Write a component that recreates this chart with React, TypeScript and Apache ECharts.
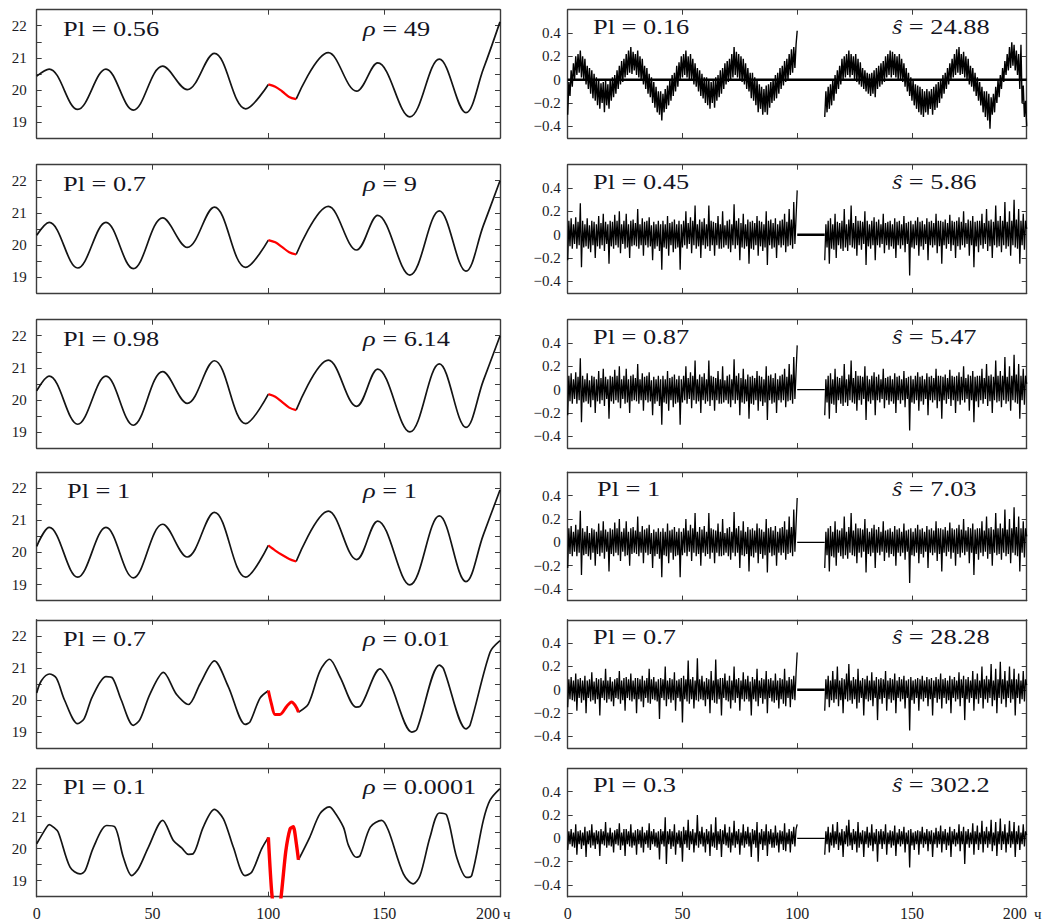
import React, { useEffect, useRef } from "react";
import * as echarts from "echarts";

const FONT = "Liberation Serif, Times New Roman, serif";

// ---------- annotation values ----------
const plLeft = ["0.56", "0.7", "0.98", "1", "0.7", "0.1"];
const rhoValues = ["49", "9", "6.14", "1", "0.01", "0.0001"];
const plRight = ["0.16", "0.45", "0.87", "1", "0.7", "0.3"];
const sHatValues = ["24.88", "5.86", "5.47", "7.03", "28.28", "302.2"];

// ---------- axis ticks ----------
const xTickValues = [50, 100, 150];
const xLabelValues = [0, 50, 100, 150, 200];
const leftYTicks = [19, 19.5, 20, 20.5, 21, 21.5, 22];
const leftYLabels = [19, 20, 21, 22];
const rightYTicks = [-0.4, -0.2, 0, 0.2, 0.4];
const xRange = [0, 200];
const leftYRange = [18.5, 22.5];
const rightYRange = [-0.5, 0.6];

// ---------- left column: fitted curves (rows 1-4 share knot positions) ----------
const xSmoothPre = [0, 5.4, 17.7, 29.9, 41.7, 54.4, 65, 76.7, 90.2, 100];
const xSmoothGap = [100, 103, 106, 109, 112];
const xSmoothPost = [112, 125.9, 138.1, 147.2, 161.1, 173.8, 185.3, 192.8, 200];

const fit1Pre = [20.43, 20.65, 19.39, 20.65, 19.37, 20.74, 20.01, 21.14, 19.41, 20.17];
const fit1Gap = [20.17, 20.1, 19.95, 19.78, 19.71];
const fit1Post = [19.71, 21.16, 19.96, 20.84, 19.16, 20.96, 19.29, 20.65, 22.12];

const fit2Pre = [20.3, 20.7, 19.28, 20.7, 19.26, 20.84, 19.92, 21.18, 19.3, 20.15];
const fit2Gap = [20.15, 20.08, 19.93, 19.77, 19.7];
const fit2Post = [19.7, 21.2, 19.84, 20.92, 19.06, 21.06, 19.18, 20.6, 22.0];

const fit3Pre = [20.28, 20.74, 19.24, 20.74, 19.21, 20.88, 19.89, 21.22, 19.26, 20.18];
const fit3Gap = [20.18, 20.1, 19.93, 19.76, 19.68];
const fit3Post = [19.68, 21.24, 19.8, 20.96, 19.0, 21.12, 19.14, 20.6, 21.99];

const fit4Pre = [20.19, 20.78, 19.23, 20.78, 19.21, 20.88, 19.86, 21.25, 19.23, 20.22];
const fit4Gap = [20.22, 20.06, 19.92, 19.8, 19.72];
const fit4Post = [19.72, 21.29, 19.78, 20.98, 18.99, 21.14, 19.09, 20.55, 21.95];

const x5Pre = [0, 2, 5.5, 8.5, 12, 17.7, 20.5, 24, 29.9, 32.8, 36.5, 41.7, 44.5, 49, 54.7, 60.4, 65.5, 70.5, 76.7, 82.7, 90, 92.1, 96.4, 100];
const fit5Pre = [20.22, 20.6, 20.81, 20.68, 20.0, 19.26, 19.42, 20.1, 20.73, 20.68, 20.0, 19.21, 19.38, 20.2, 20.86, 20.17, 19.86, 20.5, 21.22, 20.42, 19.24, 19.32, 20.06, 20.29];
const x5Gap = [100, 101.4, 102.9, 105, 107.9, 110, 111.5, 113];
const fit5Gap = [20.29, 19.86, 19.55, 19.55, 19.8, 19.94, 19.84, 19.62];
const x5Post = [113, 117.3, 122.3, 126.4, 131, 137.8, 139.6, 148.2, 152.5, 161.9, 164.1, 173.8, 175.6, 185.3, 187.1, 195.7, 200];
const fit5Post = [19.62, 19.88, 20.91, 21.27, 20.71, 19.78, 19.8, 20.97, 20.53, 19.0, 19.08, 21.09, 20.98, 19.1, 19.22, 21.49, 21.85];

const x6Pre = [0, 4.3, 5.4, 7.2, 9.3, 14.4, 18.7, 20.9, 24.5, 30.2, 33.8, 37.4, 41, 43.9, 48.2, 54.4, 59, 62.6, 65.5, 67.6, 71.9, 76.7, 80.6, 84.9, 89.9, 92.8, 97.1, 100];
const fit6Pre = [20.15, 20.67, 20.75, 20.67, 20.51, 19.42, 19.21, 19.31, 20.04, 20.72, 20.67, 19.73, 19.16, 19.37, 20.04, 20.88, 20.25, 20.02, 19.82, 19.84, 20.67, 21.22, 20.93, 20.04, 19.16, 19.26, 19.99, 20.35];
const x6Gap = [100, 101.5, 103.5, 105.5, 107.5, 109.4, 110.8, 112, 113];
const fit6Gap = [20.35, 18.6, 17.6, 18.5, 19.9, 20.62, 20.68, 20.2, 19.65];
const x6Post = [113, 117.9, 122.3, 126.3, 128.1, 132.4, 134.6, 137.9, 139.6, 144, 148.9, 151.8, 158.3, 162.6, 165.5, 169.8, 173.8, 177, 181.3, 185.6, 187.8, 192.8, 195.7, 200];
const fit6Post = [19.65, 20.36, 21.09, 21.3, 21.19, 20.67, 20.1, 19.73, 19.78, 20.67, 20.88, 20.57, 19.21, 18.9, 19.16, 20.36, 21.11, 21.04, 19.73, 19.1, 19.16, 20.88, 21.51, 21.87];

// ---------- right column: residuals (hundredths), one sample every 0.5 s ----------
const RESID_STEP = 0.5;
const residPreStart = 0;
const residPostStart = 112;
const zeroSpanFull = [0, 200];
const zeroSpanGap = [100, 112];

const res1Pre = [
  -30,-2,-14,8,-6,14,0,20,4,22,6,25,2,20,0,18,-4,12,-8,10,
  -12,8,-16,5,-18,2,-22,0,-25,-3,-20,-2,-28,0,-22,-4,-25,0,-18,2,
  -15,4,-12,8,-8,12,-4,16,-2,18,2,22,4,25,6,28,5,24,8,22,
  4,25,2,20,0,18,-4,12,-8,10,-12,5,-15,2,-20,-2,-24,-6,-28,-10,
  -30,-10,-35,-12,-28,-8,-25,-5,-22,0,-18,4,-14,6,-10,12,-6,15,0,20,
  2,22,4,25,2,20,0,22,0,18,-4,14,-6,10,-10,8,-14,5,-16,2,
  -20,2,-22,0,-25,-2,-20,0,-24,2,-18,4,-15,8,-12,10,-8,14,-4,16,
  -2,18,0,22,2,28,4,24,2,22,0,20,-2,18,-4,14,-8,10,-10,6,
  -16,6,-18,2,-22,0,-28,-4,-25,-6,-30,-8,-28,-5,-30,-4,-24,-2,-20,0,
  -18,4,-16,6,-12,10,-8,12,-5,16,-2,18,0,22,4,26,6,28,10,30,
  42];
const res1Post = [
  -32,-10,-28,-6,-25,-4,-22,0,-18,4,-12,8,-8,12,-4,18,0,20,2,22,
  4,25,2,22,4,20,0,22,-2,18,-4,15,-6,10,-8,8,-10,6,-12,5,
  -14,6,-12,8,-15,10,-8,12,-6,14,-4,16,-2,20,2,22,4,25,2,24,
  4,22,2,20,0,22,0,18,-2,14,-6,10,-10,6,-14,2,-18,0,-22,-4,
  -25,-5,-28,-6,-30,-8,-32,-10,-28,-8,-30,-10,-25,-8,-30,-6,-26,-4,-24,-2,
  -20,0,-16,4,-12,6,-8,10,-4,14,0,18,2,22,4,26,6,28,4,22,
  5,24,2,20,0,18,-4,12,-6,10,-10,6,-14,2,-18,-2,-22,-6,-28,-10,
  -32,-10,-35,-12,-42,-15,-30,-12,-28,-6,-20,0,-15,4,-8,10,-2,16,4,22,
  8,28,10,32,12,30,8,25,4,22,-8,30,-20,-5,-32,-18,
  -40];

const resAPre = [
  -22,12,-10,14,-12,9,-8,15,-12,11,-9,27,-28,12,-11,9,-10,14,-12,8,
  -15,12,-9,11,-20,9,-10,16,-12,10,-9,18,-14,11,-8,9,-25,12,-10,11,
  -12,17,-9,12,-11,20,-16,9,-8,12,-12,18,-11,9,-20,12,-10,13,-9,10,
  -10,22,-12,9,-9,14,-18,11,-9,12,-11,15,-10,8,-22,11,-12,9,-10,12,
  -14,9,-30,12,-11,9,-12,16,-18,10,-9,11,-15,13,-12,9,-11,12,-30,9,
  -11,12,-9,20,-12,10,-8,15,-16,12,-9,25,-12,9,-10,13,-20,11,-9,14,
  -12,9,-10,25,-14,12,-9,11,-18,10,-9,16,-12,9,-12,20,-11,8,-9,12,
  -12,13,-15,9,-9,26,-12,12,-9,14,-22,10,-11,18,-12,9,-10,13,-25,11,
  -12,12,-13,10,-9,16,-18,12,-10,11,-14,9,-11,20,-26,12,-9,13,-12,10,
  -11,14,-20,9,-9,12,-11,13,-9,18,-15,11,-10,22,-9,13,-12,28,-8,15,
  38];
const resAPost = [
  -22,9,-11,12,-25,14,-12,9,-13,18,-20,11,-9,10,-12,12,-14,22,-11,9,
  -14,13,-9,25,-11,10,-12,16,-18,12,-9,12,-13,11,-8,20,-26,12,-10,9,
  -12,12,-9,15,-22,11,-9,13,-11,9,-8,18,-16,10,-9,11,-13,12,-10,9,
  -12,14,-20,11,-9,12,-12,9,-9,16,-15,10,-8,11,-35,12,-11,9,-12,12,
  -9,15,-18,11,-10,12,-13,9,-8,14,-22,11,-9,12,-11,10,-9,18,-16,12,
  -10,12,-25,11,-9,13,-12,10,-8,17,-14,12,-9,11,-20,12,-10,15,-13,11,
  -9,20,-11,10,-8,13,-18,12,-9,16,-28,11,-10,12,-15,12,-9,18,-12,10,
  -8,22,-14,12,-10,13,-20,11,-9,25,-11,12,-10,16,-15,12,-9,28,-12,11,
  -10,20,-18,12,-9,30,-11,13,-12,22,-25,12,-9,18,-13,12,
  5];

const resBPre = [
  -15,9,-8,11,-9,8,-10,14,-18,9,-7,10,-11,8,-9,12,-20,8,-7,9,
  -10,15,-9,7,-12,10,-8,9,-22,10,-7,8,-9,18,-11,8,-8,11,-10,7,
  -14,9,-7,10,-8,16,-12,8,-9,10,-18,11,-7,9,-9,14,-10,8,-8,10,
  -20,10,-8,9,-10,12,-15,8,-7,10,-11,18,-12,9,-8,11,-9,7,-10,9,
  -25,10,-7,9,-9,20,-14,8,-8,10,-11,9,-9,15,-18,8,-7,9,-10,10,
  -28,12,-8,9,-10,25,-12,9,-8,11,-16,8,-9,27,-10,9,-8,12,-9,7,
  -14,10,-8,9,-20,16,-9,8,-11,26,-12,9,-8,10,-22,10,-7,14,-9,8,
  -10,12,-16,8,-9,20,-11,9,-7,10,-18,8,-8,15,-10,9,-8,12,-10,7,
  -22,11,-8,9,-10,18,-14,8,-7,10,-12,9,-8,16,-20,9,-7,10,-10,8,
  -11,14,-9,8,-16,10,-8,9,-12,18,-14,8,-7,11,-15,9,-8,12,-9,14,
  32];
const resBPost = [
  -18,9,-8,12,-15,8,-9,16,-11,9,-8,20,-14,8,-9,10,-20,9,-8,14,
  -10,22,-9,8,-12,11,-8,9,-16,18,-11,8,-7,10,-22,9,-8,12,-10,8,
  -9,15,-14,8,-7,11,-26,9,-8,10,-12,9,-7,16,-18,8,-8,10,-11,9,
  -9,14,-20,8,-7,11,-10,9,-8,12,-16,8,-7,9,-35,11,-9,8,-12,9,
  -7,10,-18,9,-8,12,-10,8,-7,11,-14,9,-8,10,-22,8,-7,11,-11,9,
  -8,14,-16,9,-7,10,-12,8,-9,12,-20,9,-7,11,-10,8,-8,15,-14,9,
  -7,12,-26,9,-8,11,-11,8,-7,16,-18,9,-8,14,-12,8,-7,20,-16,9,
  -8,12,-11,9,-7,22,-14,8,-9,18,-20,9,-7,24,-12,9,-8,16,-15,8,
  -7,20,-11,9,-8,18,-22,9,-7,14,-12,8,-8,16,-10,9,
  4];

const resCPre = [
  -10,6,-5,8,-7,5,-8,12,-14,6,-5,7,-9,5,-6,10,-16,6,-5,7,
  -8,12,-6,5,-9,7,-5,6,-15,8,-5,6,-6,14,-8,5,-6,9,-7,5,
  -12,7,-5,8,-6,13,-10,5,-6,8,-15,8,-5,6,-7,12,-8,5,-6,7,
  -14,8,-5,7,-8,10,-12,5,-5,7,-8,13,-10,6,-5,8,-7,5,-8,6,
  -18,8,-5,6,-7,18,-22,6,-5,8,-9,6,-7,12,-14,5,-5,7,-8,6,
  -20,10,-5,7,-8,16,-10,6,-5,8,-12,5,-6,20,-8,6,-5,10,-7,5,
  -12,8,-5,6,-15,12,-7,5,-8,18,-10,6,-5,8,-16,7,-5,12,-6,5,
  -8,10,-12,5,-6,15,-8,6,-5,8,-14,5,-6,12,-8,6,-5,10,-7,5,
  -16,8,-5,7,-8,14,-20,5,-5,8,-10,6,-6,12,-15,6,-5,8,-8,5,
  -8,11,-6,5,-12,7,-5,6,-10,13,-11,5,-5,8,-12,6,-5,10,-7,8,
  12];
const resCPost = [
  -14,6,-5,10,-12,5,-6,12,-8,6,-5,14,-10,5,-6,8,-16,6,-5,11,
  -7,16,-6,5,-10,8,-5,6,-12,14,-8,5,-5,7,-16,6,-5,10,-8,5,
  -6,12,-11,5,-5,8,-20,6,-5,8,-9,6,-5,12,-14,5,-5,7,-8,6,
  -6,11,-15,5,-5,8,-7,6,-5,10,-12,5,-5,7,-25,8,-6,5,-10,6,
  -5,7,-14,6,-5,10,-8,5,-5,8,-11,6,-5,7,-16,5,-5,9,-8,6,
  -5,11,-12,6,-5,8,-10,5,-6,10,-16,6,-5,8,-7,5,-5,12,-11,6,
  -5,10,-22,6,-5,8,-8,5,-5,13,-14,6,-5,11,-10,5,-5,15,-12,6,
  -5,10,-8,6,-5,16,-11,5,-6,14,-15,6,-5,17,-10,6,-5,12,-12,5,
  -5,15,-8,6,-5,14,-16,6,-5,11,-10,5,-5,12,-7,6,
  3];

// ---------- layout ----------
const rowTops = [9.7, 164.7, 319.7, 472.3, 619.8, 768.4];
const ROW_H = 128.3;
const LEFT_COL = { left: 36.7, width: 463.3 };
const RIGHT_COL = { left: 567.7, width: 459 };
const AXIS_COLOR = "#3c3c3c";
const LABEL_COLOR = "#1b1b24";

const zip = (xs: number[], ys: number[]) => xs.map((x, i) => [x, ys[i]]);
const residData = (vals: number[], start: number) => vals.map((v, i) => [start + i * RESID_STEP, v / 100]);

const leftPanels = [
  { pre: zip(xSmoothPre, fit1Pre), gap: zip(xSmoothGap, fit1Gap), post: zip(xSmoothPost, fit1Post), smooth: 0.37, redW: 2.2, redSmooth: 0.3 },
  { pre: zip(xSmoothPre, fit2Pre), gap: zip(xSmoothGap, fit2Gap), post: zip(xSmoothPost, fit2Post), smooth: 0.37, redW: 2.2, redSmooth: 0.3 },
  { pre: zip(xSmoothPre, fit3Pre), gap: zip(xSmoothGap, fit3Gap), post: zip(xSmoothPost, fit3Post), smooth: 0.37, redW: 2.2, redSmooth: 0.3 },
  { pre: zip(xSmoothPre, fit4Pre), gap: zip(xSmoothGap, fit4Gap), post: zip(xSmoothPost, fit4Post), smooth: 0.37, redW: 2.2, redSmooth: 0.3 },
  { pre: zip(x5Pre, fit5Pre), gap: zip(x5Gap, fit5Gap), post: zip(x5Post, fit5Post), smooth: 0.3, redW: 3, redSmooth: 0.3 },
  { pre: zip(x6Pre, fit6Pre), gap: zip(x6Gap, fit6Gap), post: zip(x6Post, fit6Post), smooth: 0.3, redW: 3.4, redSmooth: 0.2 },
];

const rightPanels = [
  { pre: residData(res1Pre, residPreStart), post: residData(res1Post, residPostStart), zero: zeroSpanFull, zeroW: 2.6, w: 1.4 },
  { pre: residData(resAPre, residPreStart), post: residData(resAPost, residPostStart), zero: zeroSpanGap, zeroW: 2.4, w: 1.3 },
  { pre: residData(resAPre, residPreStart), post: residData(resAPost, residPostStart), zero: zeroSpanGap, zeroW: 1.2, w: 1.3 },
  { pre: residData(resAPre, residPreStart), post: residData(resAPost, residPostStart), zero: zeroSpanGap, zeroW: 1.2, w: 1.3 },
  { pre: residData(resBPre, residPreStart), post: residData(resBPost, residPostStart), zero: zeroSpanGap, zeroW: 2.4, w: 1.3 },
  { pre: residData(resCPre, residPreStart), post: residData(resCPost, residPostStart), zero: zeroSpanGap, zeroW: 1.3, w: 1.3 },
];

function axisLineCfg() {
  return { show: true, onZero: false, lineStyle: { color: AXIS_COLOR, width: 1.4 } };
}
function tickCfg(values: number[]) {
  return { show: true, inside: true, length: 5, customValues: values, lineStyle: { color: AXIS_COLOR, width: 1 } };
}
const fmtNum = (v: number) => (v < 0 ? "\u2212" + String(Math.abs(v)) : String(v));

function buildOption() {
  const grid: any[] = [];
  const xAxis: any[] = [];
  const yAxis: any[] = [];
  const series: any[] = [];
  const graphic: any[] = [];

  for (let row = 0; row < 6; row++) {
    for (let col = 0; col < 2; col++) {
      const k = row * 2 + col;
      const c = col === 0 ? LEFT_COL : RIGHT_COL;
      grid.push({ left: c.left, top: rowTops[row], width: c.width, height: ROW_H, containLabel: false });
      const isBottom = row === 5;
      xAxis.push({
        type: "value", gridIndex: k, min: xRange[0], max: xRange[1], position: "bottom",
        axisLine: axisLineCfg(), axisTick: tickCfg(xTickValues), splitLine: { show: false },
        axisLabel: {
          show: isBottom, customValues: xLabelValues, fontFamily: FONT, fontSize: 16,
          color: LABEL_COLOR, margin: 9, showMinLabel: true, showMaxLabel: true, alignMaxLabel: "right",
        },
      });
      xAxis.push({
        type: "value", gridIndex: k, min: xRange[0], max: xRange[1], position: "top",
        axisLine: axisLineCfg(), axisTick: tickCfg(xTickValues), splitLine: { show: false },
        axisLabel: { show: false },
      });
      const yr = col === 0 ? leftYRange : rightYRange;
      const yt = col === 0 ? leftYTicks : rightYTicks;
      const yl = col === 0 ? leftYLabels : rightYTicks;
      yAxis.push({
        type: "value", gridIndex: k, min: yr[0], max: yr[1], position: "left",
        axisLine: axisLineCfg(), axisTick: tickCfg(yt), splitLine: { show: false },
        axisLabel: {
          show: true, customValues: yl, formatter: fmtNum, fontFamily: FONT, fontSize: 15,
          color: LABEL_COLOR, margin: col === 0 ? 10 : 7,
        },
      });
      yAxis.push({
        type: "value", gridIndex: k, min: yr[0], max: yr[1], position: "right",
        axisLine: axisLineCfg(), axisTick: tickCfg(yt), splitLine: { show: false },
        axisLabel: { show: false },
      });

      const base = { type: "line", xAxisIndex: 2 * k, yAxisIndex: 2 * k, symbol: "none", showSymbol: false, silent: true, clip: true };
      if (col === 0) {
        const p = leftPanels[row];
        series.push({ ...base, data: p.pre, smooth: p.smooth, lineStyle: { color: "#141414", width: 1.7 }, z: 2 });
        series.push({ ...base, data: p.post, smooth: p.smooth, lineStyle: { color: "#141414", width: 1.7 }, z: 2 });
        series.push({ ...base, data: p.gap, smooth: p.redSmooth, lineStyle: { color: "#ff0000", width: p.redW }, z: 3 });
      } else {
        const p = rightPanels[row];
        series.push({ ...base, data: p.pre, lineStyle: { color: "#000000", width: p.w }, z: 2 });
        series.push({ ...base, data: p.post, lineStyle: { color: "#000000", width: p.w }, z: 2 });
        series.push({ ...base, data: [[p.zero[0], 0], [p.zero[1], 0]], lineStyle: { color: "#000000", width: p.zeroW }, z: 3 });
      }
    }

    const ty = rowTops[row] + 19;
    const plLeftX = plLeft[row] === "1" ? 67 : 63;
    const plRightX = plRight[row] === "1" ? 597 : 593;
    const textBase = { fontFamily: FONT, fontSize: 20, fill: "#15151f", verticalAlign: "middle", textVerticalAlign: "middle", align: "left", textAlign: "left" };
    const richI = { i: { fontFamily: FONT, fontSize: 20, fontStyle: "italic", fill: "#15151f" } };
    graphic.push({ type: "text", x: plLeftX, y: ty, scaleX: 1.32, z: 10, style: { ...textBase, text: "Pl = " + plLeft[row] } });
    graphic.push({ type: "text", x: 363, y: ty, scaleX: 1.32, z: 10, style: { ...textBase, text: "{i|\u03c1} = " + rhoValues[row], rich: richI } });
    graphic.push({ type: "text", x: plRightX, y: ty - 2, scaleX: 1.32, z: 10, style: { ...textBase, text: "Pl = " + plRight[row] } });
    graphic.push({ type: "text", x: 892, y: ty - 2, scaleX: 1.32, z: 10, style: { ...textBase, text: "{i|\u015d} = " + sHatValues[row], rich: richI } });
  }

  // clipped unit glyph after the last x label of each column
  const unitY = rowTops[5] + ROW_H + 17;
  const unitStyle = { text: "\u0447", fontFamily: FONT, fontSize: 15, fill: LABEL_COLOR, verticalAlign: "middle", textVerticalAlign: "middle" };
  graphic.push({ type: "text", x: 503, y: unitY, z: 10, style: { ...unitStyle } });
  graphic.push({ type: "text", x: 1034, y: unitY, z: 10, style: { ...unitStyle } });

  return { animation: false, backgroundColor: "#ffffff", grid, xAxis, yAxis, series, graphic };
}

export default function App() {
  const ref = useRef<HTMLDivElement>(null);
  useEffect(() => {
    if (!ref.current) return;
    const chart = echarts.init(ref.current, null, { renderer: "svg" });
    chart.setOption(buildOption() as any);
    return () => chart.dispose();
  }, []);
  return <div ref={ref} style={{ position: "absolute", left: 0, top: 0, width: 1048, height: 924 }} />;
}
